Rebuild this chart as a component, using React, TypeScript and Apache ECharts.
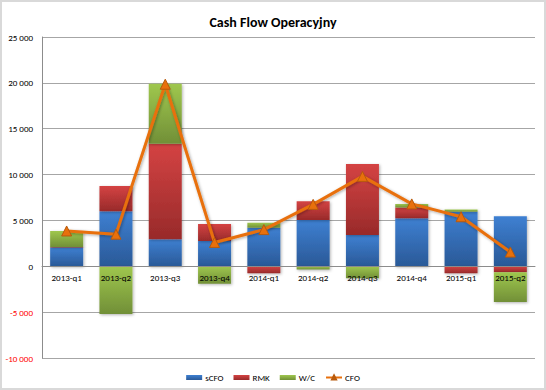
import React, { useEffect, useRef } from "react";
import * as echarts from "echarts";

const categories = ["2013-q1", "2013-q2", "2013-q3", "2013-q4", "2014-q1", "2014-q2", "2014-q3", "2014-q4", "2015-q1", "2015-q2"];
const sCFO = [2050, 6000, 2950, 2750, 4200, 5050, 3400, 5250, 5950, 5450];
const RMK = [50, 2750, 10400, 1850, -750, 2050, 7750, 1150, -750, -650];
const WC = [1750, -5200, 6550, -1900, 550, -350, -1300, 400, 250, -3250];
const CFO = [3850, 3500, 19850, 2600, 4000, 6750, 9800, 6800, 5400, 1550];

const FONT = "Carlito, Calibri, 'Liberation Sans', sans-serif";
const Y_MIN = -10000;
const Y_MAX = 25000;
const GRID_TOP = 37;
const GRID_BOTTOM = 32;
const CHART_H = 390;

function fmt(v: number): string {
  const s = String(Math.abs(v)).replace(/\B(?=(\d{3})+(?!\d))/g, " ");
  return (v < 0 ? "-" : "") + s;
}

function grad(top: string, bottom: string) {
  return new echarts.graphic.LinearGradient(0, 0, 0, 1, [
    { offset: 0, color: top },
    { offset: 1, color: bottom },
  ]);
}

export default function App() {
  const ref = useRef<HTMLDivElement>(null);
  useEffect(() => {
    document.body.style.margin = "0";
    if (!ref.current) return;
    const chart = echarts.init(ref.current, null, { renderer: "svg" });
    const barShadow = {
      shadowBlur: 3,
      shadowColor: "rgba(0,0,0,0.3)",
      shadowOffsetX: 1,
      shadowOffsetY: 1,
    };
    const plotH = CHART_H - GRID_TOP - GRID_BOTTOM;
    const zeroOffset = -(plotH * (0 - Y_MIN)) / (Y_MAX - Y_MIN);
    chart.setOption({
      animation: false,
      backgroundColor: "#ffffff",
      title: {
        text: "Cash Flow Operacyjny",
        left: "center",
        top: 10,
        textStyle: { fontFamily: FONT, fontSize: 14, fontWeight: "bold", color: "#000" },
      },
      graphic: [
        {
          type: "rect",
          shape: { x: 1, y: 1, width: 544, height: 388 },
          style: { fill: "none", stroke: "#d9d9d9", lineWidth: 2 },
          silent: true,
        },
      ],
      legend: {
        top: 368,
        left: "center",
        itemWidth: 16,
        itemHeight: 5,
        itemGap: 10,
        textStyle: { fontFamily: FONT, fontSize: 9, color: "#000", padding: [0, 0, 0, -2] },
        data: [
          { name: "sCFO", icon: "rect" },
          { name: "RMK", icon: "rect" },
          { name: "W/C", icon: "rect" },
          { name: "CFO" },
        ],
      },
      grid: { left: 42, right: 11, top: GRID_TOP, bottom: GRID_BOTTOM },
      xAxis: {
        type: "category",
        data: categories,
        z: 5,
        position: "bottom",
        offset: zeroOffset,
        axisLine: { onZero: false, lineStyle: { color: "#8c8c8c", width: 1 } },
        axisTick: { show: false },
        axisLabel: { fontFamily: FONT, fontSize: 9, color: "#000", margin: 7 },
      },
      yAxis: {
        type: "value",
        min: Y_MIN,
        max: Y_MAX,
        interval: 5000,
        axisLine: { show: true, lineStyle: { color: "#8c8c8c" } },
        axisTick: { show: false },
        splitLine: { lineStyle: { color: "#a6a6a6", width: 1 } },
        axisLabel: {
          fontFamily: FONT,
          fontSize: 9,
          margin: 9,
          formatter: (v: number) => fmt(v),
          color: (v: any) => (Number(v) < 0 ? "#ff0000" : "#000000"),
        },
      },
      series: [
        {
          name: "sCFO",
          type: "bar",
          stack: "a",
          barWidth: 33,
          data: sCFO,
          itemStyle: { color: grad("#3e80d2", "#2a5997"), ...barShadow },
        },
        {
          name: "RMK",
          type: "bar",
          stack: "a",
          barWidth: 33,
          data: RMK,
          itemStyle: { color: grad("#d44343", "#982a2a"), ...barShadow },
        },
        {
          name: "W/C",
          type: "bar",
          stack: "a",
          barWidth: 33,
          data: WC,
          itemStyle: { color: grad("#9fc74e", "#718f37"), ...barShadow },
        },
        {
          name: "CFO",
          type: "line",
          data: CFO,
          z: 6,
          symbol: "triangle",
          symbolSize: 10,
          lineStyle: {
            color: "#e8700c",
            width: 3,
            shadowBlur: 3,
            shadowColor: "rgba(0,0,0,0.35)",
            shadowOffsetX: 1,
            shadowOffsetY: 1,
          },
          itemStyle: { color: "#e8700c", borderColor: "#b85a0c", borderWidth: 1 },
        },
      ],
    });
    return () => chart.dispose();
  }, []);
  return <div ref={ref} style={{ width: 546, height: 390 }} />;
}
